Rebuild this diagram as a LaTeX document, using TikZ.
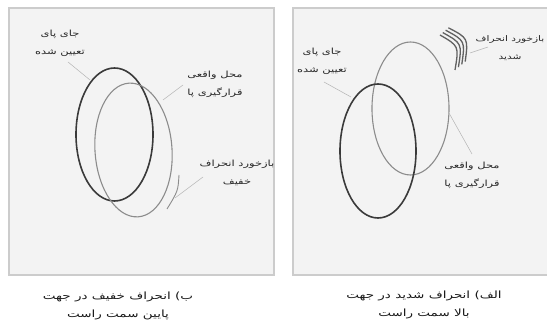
\documentclass[tikz,border=0pt]{standalone}
\usepackage{fontspec}
\TeXXeTstate=1
\newfontfamily\arabicfont[Script=Arabic,FakeStretch=1.35]{DejaVu Sans}
\definecolor{panelfill}{HTML}{F3F3F3}
\definecolor{panelline}{HTML}{CCCCCC}
\definecolor{darkring}{HTML}{3A3A3A}
\definecolor{lightring}{HTML}{8C8C8C}
\definecolor{leadcol}{HTML}{B4B4B4}
\definecolor{txtcol}{HTML}{262626}
\tikzset{
  panel/.style={draw=panelline, fill=panelfill, line width=1.4pt},
  darkell/.style={draw=darkring, line width=1.6pt},
  lightell/.style={draw=lightring, line width=1.1pt},
  leader/.style={draw=leadcol, line width=0.5pt},
  fbarc/.style={draw=darkring!80, line width=1.3pt},
  fbthin/.style={draw=lightring, line width=0.9pt},
  lbl/.style={font=\arabicfont\fontsize{8.5}{18}\selectfont, text=txtcol, align=center, inner sep=0pt},
  lblsmall/.style={lbl, font=\arabicfont\fontsize{7.8}{18}\selectfont},
  captxt/.style={font=\arabicfont\fontsize{10}{18}\selectfont, text=black!90, align=center, inner sep=0pt}
}
\begin{document}
\begin{tikzpicture}[x=1pt,y=-1pt]
\useasboundingbox (0,0) rectangle (547,328);
\fill[white] (0,0) rectangle (547,328);
% panels
\draw[panel] (9,8) rectangle (274,275);
\draw[panel] (293,8) rectangle (552,275);

% ---------- left panel (b) ----------
\draw[darkell] (114.5,134.5) ellipse [x radius=38.5, y radius=66.5];
\draw[lightell, rotate around={4:(133.5,150)}] (133.5,150) ellipse [x radius=38.5, y radius=67];
\coordinate (fbA) at (179,175);
\coordinate (fbB) at (167,209);
\draw[fbthin] (fbA) .. controls (178,191) .. (fbB);

\node[lbl] (lA) at (60,43) {\beginR جای پای\endR\\\beginR تعیین شده\endR};
\node[lbl] (lB) at (215,84) {\beginR محل واقعی\endR\\\beginR قرارگیری پا\endR};
\node[lbl] (lC) at (237,173) {\beginR بازخورد انحراف\endR\\\beginR خفیف\endR};

\coordinate (lAs) at (68,62);  \coordinate (lAe) at (90,80);
\coordinate (lBs) at (183,85); \coordinate (lBe) at (163,100);
\coordinate (lCs) at (203,177); \coordinate (lCe) at (175,198);
\draw[leader] (lAs) -- (lAe);
\draw[leader] (lBs) -- (lBe);
\draw[leader] (lCs) -- (lCe);

\node[captxt] (capB) at (118,306) {\beginR ب\hbox{)} انحراف خفیف در جهت\endR\\\beginR پایین سمت راست\endR};

% ---------- right panel (alef) ----------
\draw[lightell] (410.5,108.5) ellipse [x radius=38.5, y radius=66.5];
\draw[darkell] (378,151) ellipse [x radius=38, y radius=67];
\foreach \i in {0,1,2,3}{
  \draw[fbarc] ({440+2.8*\i},{35-2.4*\i}) .. controls ({459+3.1*\i},{46-2.6*\i}) .. ({455+3.4*\i},{70-2.8*\i});
}

\node[lbl] (rA) at (322,61) {\beginR جای پای\endR\\\beginR تعیین شده\endR};
\node[lblsmall] (rB) at (510,48) {\beginR بازخورد انحراف\endR\\\beginR شدید\endR};
\node[lbl] (rC) at (472,175) {\beginR محل واقعی\endR\\\beginR قرارگیری پا\endR};

\coordinate (rAs) at (324,82);  \coordinate (rAe) at (351,97);
\coordinate (rBs) at (470,53);  \coordinate (rBe) at (488,47);
\coordinate (rCs) at (449,113); \coordinate (rCe) at (472,154);
\draw[leader] (rAs) -- (rAe);
\draw[leader] (rBs) -- (rBe);
\draw[leader] (rCs) -- (rCe);

\node[captxt] (capA) at (424,305) {\beginR الف\hbox{)} انحراف شدید در جهت\endR\\\beginR بالا سمت راست\endR};
\end{tikzpicture}
\end{document}
